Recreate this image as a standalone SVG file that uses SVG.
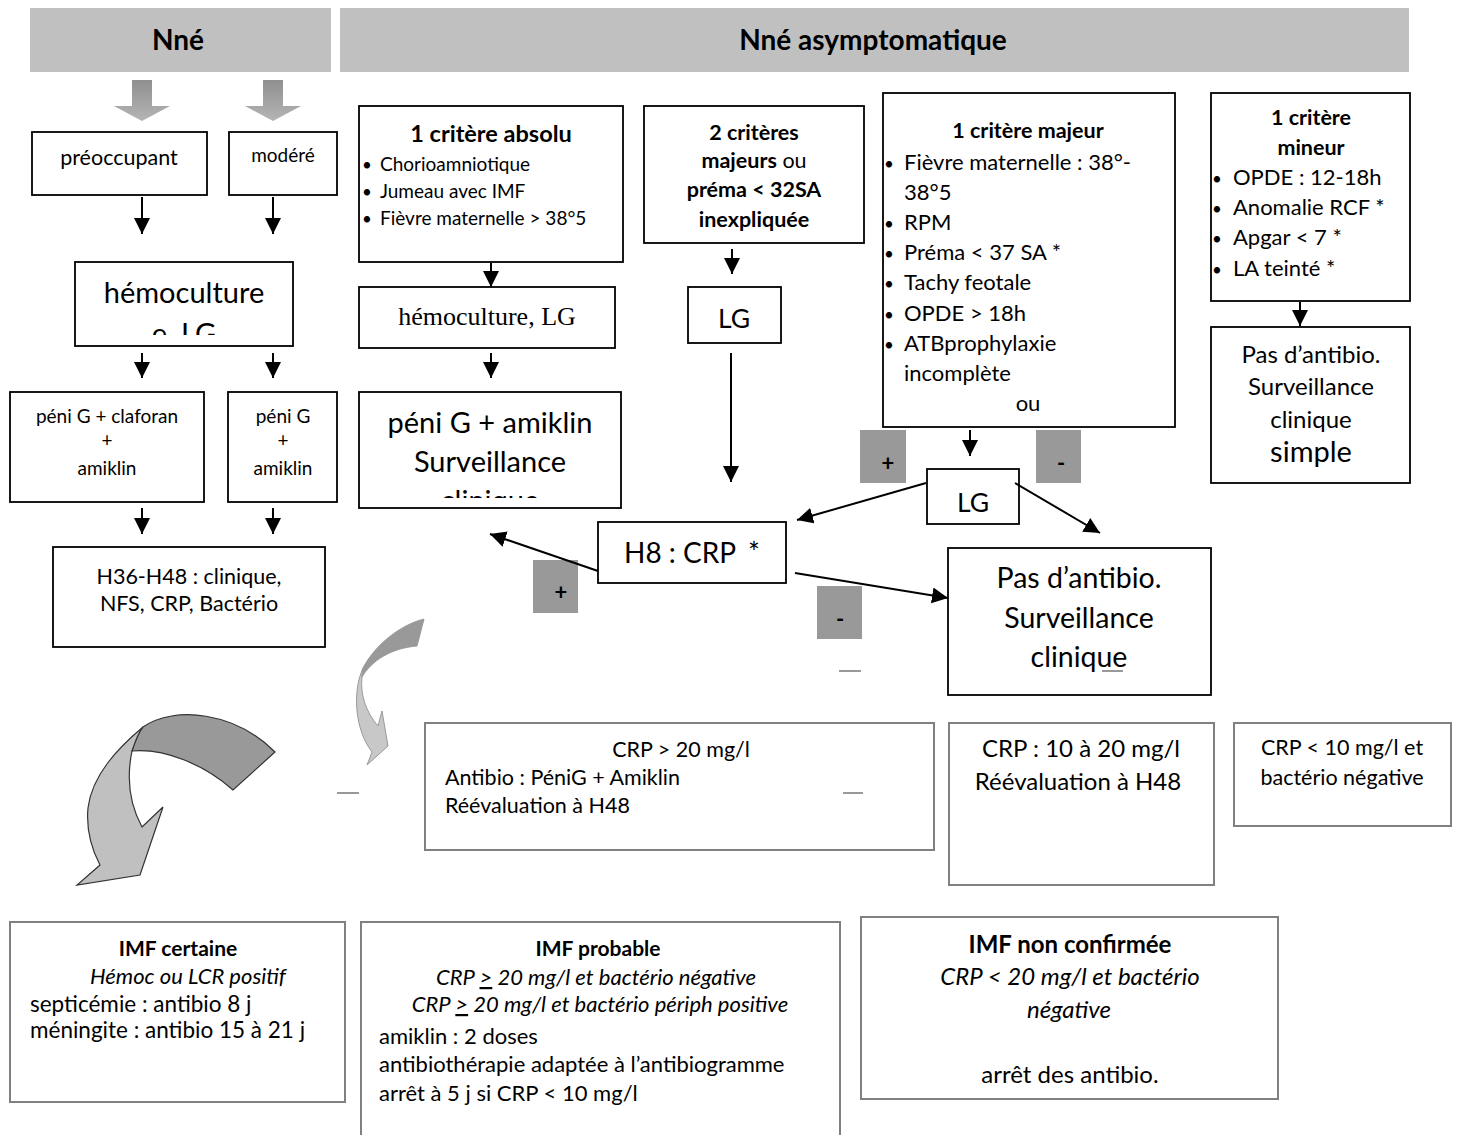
<svg xmlns="http://www.w3.org/2000/svg" width="1458" height="1135" viewBox="0 0 1458 1135">
<defs>
<style>
.t{font-family:Lato,'Liberation Sans',sans-serif;fill:#000}
.c{text-anchor:middle}
.b{font-weight:bold}
.i{font-style:italic}
.bx{fill:#fff;stroke:#000;stroke-width:1.8}
.gx{fill:#fff;stroke:#808080;stroke-width:2}
.sq{fill:#999;stroke:none}
.hd{fill:#c0c0c0}
.ln{stroke:#000;stroke-width:2;fill:none}
.dash{stroke:#999;stroke-width:2}
</style>
<marker id="ah" markerUnits="userSpaceOnUse" markerWidth="18" markerHeight="18" refX="16" refY="8" orient="auto">
<path d="M0,0 L16,8 L0,16 Z" fill="#000"/>
</marker>
<linearGradient id="ga" x1="0" y1="0" x2="0" y2="1">
<stop offset="0" stop-color="#8f8f8f"/>
<stop offset="1" stop-color="#b5b5b5"/>
</linearGradient>
<clipPath id="cp1"><rect x="75" y="262" width="218" height="73"/></clipPath>
<clipPath id="cp2"><rect x="359" y="392" width="262" height="106"/></clipPath>
</defs>

<g id="header-nne">
<rect class="hd" x="30" y="8" width="301" height="64"/>
<text class="t c b" x="178" y="50" font-size="28">Nné</text>
</g>
<g id="header-asym">
<rect class="hd" x="340" y="8" width="1069" height="64"/>
<text class="t c b" x="873" y="50" font-size="28">Nné asymptomatique</text>
</g>

<g id="gray-arrows">
<path d="M132,80 H152 V106 H170 L142,121 L114,106 H132 Z" fill="url(#ga)"/>
<path d="M263,80 H283 V106 H301 L273,121 L245,106 H263 Z" fill="url(#ga)"/>
</g>

<g id="n-preoccupant">
<rect class="bx" x="32" y="132" width="175" height="63"/>
<text class="t c" x="119" y="165" font-size="21.5">préoccupant</text>
</g>
<g id="n-modere">
<rect class="bx" x="229" y="132" width="108" height="63"/>
<text class="t c" x="283" y="162" font-size="19">modéré</text>
</g>
<g id="n-hemoc-left">
<rect class="bx" x="75" y="262" width="218" height="84"/>
<g clip-path="url(#cp1)">
<text class="t c" x="184" y="303" font-size="29">hémoculture</text>
<text class="t c" x="184" y="344" font-size="29">e, LG</text>
</g>
</g>
<g id="n-peni-claforan">
<rect class="bx" x="10" y="392" width="194" height="110"/>
<text class="t c" x="107" y="423" font-size="19">péni G + claforan</text>
<text class="t c" x="107" y="447" font-size="19">+</text>
<text class="t c" x="107" y="475" font-size="19">amiklin</text>
</g>
<g id="n-peni-g">
<rect class="bx" x="228" y="392" width="109" height="110"/>
<text class="t c" x="283" y="423" font-size="19">péni G</text>
<text class="t c" x="283" y="447" font-size="19">+</text>
<text class="t c" x="283" y="475" font-size="19">amiklin</text>
</g>
<g id="n-h36">
<rect class="bx" x="53" y="547" width="272" height="100"/>
<text class="t c" x="189" y="584" font-size="21.5">H36-H48 : clinique,</text>
<text class="t c" x="189" y="611" font-size="21.5">NFS, CRP, Bactério</text>
</g>

<g id="n-absolu">
<rect class="bx" x="359" y="106" width="264" height="156"/>
<text class="t c b" x="491" y="142" font-size="23.5">1 critère absolu</text>
<text class="t" x="362" y="171" font-size="17">•</text>
<text class="t" x="380" y="171" font-size="19">Chorioamniotique</text>
<text class="t" x="362" y="198" font-size="17">•</text>
<text class="t" x="380" y="198" font-size="19">Jumeau avec IMF</text>
<text class="t" x="362" y="225" font-size="17">•</text>
<text class="t" x="380" y="225" font-size="19">Fièvre maternelle &gt; 38°5</text>
</g>
<g id="n-hemoc-lg">
<rect class="bx" x="359" y="287" width="256" height="61"/>
<text class="c" x="487" y="325" font-size="26" font-family="'Liberation Serif',serif">hémoculture, LG</text>
</g>
<g id="n-peni-amiklin">
<rect class="bx" x="359" y="392" width="262" height="116"/>
<g clip-path="url(#cp2)">
<text class="t c" x="490" y="433" font-size="29">péni G + amiklin</text>
<text class="t c" x="490" y="472" font-size="29">Surveillance</text>
<text class="t c" x="490" y="511" font-size="29">clinique</text>
</g>
</g>

<g id="n-2criteres">
<rect class="bx" x="644" y="106" width="220" height="137"/>
<text class="t c b" x="754" y="140" font-size="21.5">2 critères</text>
<text class="t c" x="754" y="168" font-size="21.5"><tspan class="b">majeurs</tspan> ou</text>
<text class="t c b" x="754" y="197" font-size="21.5">préma &lt; 32SA</text>
<text class="t c b" x="754" y="227" font-size="21.5">inexpliquée</text>
</g>
<g id="n-lg1">
<rect class="bx" x="688" y="287" width="93" height="56"/>
<text class="t c" x="734" y="328" font-size="26.5">LG</text>
</g>

<g id="n-majeur">
<rect class="bx" x="883" y="93" width="292" height="334"/>
<text class="t c b" x="1028" y="138" font-size="21.5">1 critère majeur</text>
<g font-size="22">
<text class="t" x="884" y="170" font-size="17">•</text>
<text class="t" x="904" y="170">Fièvre maternelle : 38°-</text>
<text class="t" x="904" y="200">38°5</text>
<text class="t" x="884" y="230" font-size="17">•</text>
<text class="t" x="904" y="230">RPM</text>
<text class="t" x="884" y="260" font-size="17">•</text>
<text class="t" x="904" y="260">Préma &lt; 37 SA *</text>
<text class="t" x="884" y="290" font-size="17">•</text>
<text class="t" x="904" y="290">Tachy feotale</text>
<text class="t" x="884" y="321" font-size="17">•</text>
<text class="t" x="904" y="321">OPDE &gt; 18h</text>
<text class="t" x="884" y="351" font-size="17">•</text>
<text class="t" x="904" y="351">ATBprophylaxie</text>
<text class="t" x="904" y="381">incomplète</text>
<text class="t c" x="1028" y="411">ou</text>
</g>
</g>
<g id="n-plus1">
<rect class="sq" x="860" y="430" width="46" height="53"/>
<text class="t c b" x="888" y="471" font-size="22">+</text>
</g>
<g id="n-minus1">
<rect class="sq" x="1036" y="430" width="45" height="53"/>
<text class="t c b" x="1061" y="471" font-size="22">-</text>
</g>
<g id="n-lg2">
<rect class="bx" x="927" y="469" width="92" height="55"/>
<text class="t c" x="973" y="512" font-size="26.5">LG</text>
</g>

<g id="n-mineur">
<rect class="bx" x="1211" y="93" width="199" height="208"/>
<text class="t c b" x="1311" y="125" font-size="21.5">1 critère</text>
<text class="t c b" x="1311" y="155" font-size="21.5">mineur</text>
<g font-size="22">
<text class="t" x="1212" y="185" font-size="17">•</text>
<text class="t" x="1233" y="185">OPDE : 12-18h</text>
<text class="t" x="1212" y="215" font-size="17">•</text>
<text class="t" x="1233" y="215">Anomalie RCF *</text>
<text class="t" x="1212" y="245" font-size="17">•</text>
<text class="t" x="1233" y="245">Apgar &lt; 7 *</text>
<text class="t" x="1212" y="276" font-size="17">•</text>
<text class="t" x="1233" y="276">LA teinté *</text>
</g>
</g>
<g id="n-pas-simple">
<rect class="bx" x="1211" y="327" width="199" height="156"/>
<text class="t c" x="1311" y="363" font-size="24">Pas d’antibio.</text>
<text class="t c" x="1311" y="395" font-size="24">Surveillance</text>
<text class="t c" x="1311" y="428" font-size="24">clinique</text>
<text class="t c" x="1311" y="462" font-size="29">simple</text>
</g>

<g id="n-h8">
<rect class="bx" x="598" y="522" width="188" height="61"/>
<text class="t" x="624" y="563" font-size="28">H8 : CRP<tspan x="748">*</tspan></text>
</g>
<g id="n-plus2">
<rect class="sq" x="533" y="560" width="45" height="53"/>
<text class="t c b" x="561" y="600" font-size="22">+</text>
</g>
<g id="n-minus2">
<rect class="sq" x="817" y="586" width="45" height="53"/>
<text class="t c b" x="840" y="627" font-size="22">-</text>
</g>
<g id="n-pas-big">
<rect class="bx" x="948" y="548" width="263" height="147"/>
<text class="t c" x="1079" y="588" font-size="28.5">Pas d’antibio.</text>
<text class="t c" x="1079" y="628" font-size="28.5">Surveillance</text>
<text class="t c" x="1079" y="667" font-size="28.5">clinique</text>
</g>

<g id="n-crp20">
<rect class="gx" x="425" y="723" width="509" height="127"/>
<text class="t c" x="681" y="757" font-size="21.5">CRP &gt; 20 mg/l</text>
<text class="t" x="445" y="785" font-size="21.5">Antibio : PéniG + Amiklin</text>
<text class="t" x="445" y="813" font-size="21.5">Réévaluation à H48</text>
</g>
<g id="n-crp10-20">
<rect class="gx" x="949" y="723" width="265" height="162"/>
<text class="t c" x="1081" y="757" font-size="24">CRP : 10 à 20 mg/l</text>
<text class="t c" x="1078" y="790" font-size="24">Réévaluation à H48</text>
</g>
<g id="n-crp10">
<rect class="gx" x="1234" y="723" width="217" height="103"/>
<text class="t c" x="1342" y="755" font-size="21.5">CRP &lt; 10 mg/l et</text>
<text class="t c" x="1342" y="785" font-size="21.5">bactério négative</text>
</g>

<g id="n-imf-certaine">
<rect class="gx" x="10" y="922" width="335" height="180"/>
<text class="t c b" x="178" y="956" font-size="21">IMF certaine</text>
<text class="t c i" x="188" y="984" font-size="22">Hémoc ou LCR positif</text>
<text class="t" x="30" y="1012" font-size="22.5">septicémie : antibio 8 j</text>
<text class="t" x="30" y="1038" font-size="22.5">méningite : antibio 15 à 21 j</text>
</g>
<g id="n-imf-probable">
<rect class="gx" x="361" y="922" width="479" height="220"/>
<text class="t c b" x="598" y="956" font-size="21">IMF probable</text>
<text class="t c i" x="596" y="985" font-size="22">CRP <tspan text-decoration="underline">&gt;</tspan> 20 mg/l et bactério négative</text>
<text class="t c i" x="600" y="1012" font-size="22">CRP <tspan text-decoration="underline">&gt;</tspan> 20 mg/l et bactério périph positive</text>
<text class="t" x="379" y="1044" font-size="22">amiklin : 2 doses</text>
<text class="t" x="379" y="1072" font-size="22">antibiothérapie adaptée à l’antibiogramme</text>
<text class="t" x="379" y="1101" font-size="22">arrêt à 5 j si CRP &lt; 10 mg/l</text>
</g>
<g id="n-imf-non">
<rect class="gx" x="861" y="917" width="417" height="182"/>
<text class="t c b" x="1070" y="953" font-size="24">IMF non confirmée</text>
<text class="t c i" x="1070" y="985" font-size="24">CRP &lt; 20 mg/l et bactério</text>
<text class="t c i" x="1069" y="1018" font-size="24">négative</text>
<text class="t c" x="1070" y="1083" font-size="24">arrêt des antibio.</text>
</g>

<g id="curved-arrows">
<path d="M143,727 C118,748 92,775 88,808 C86,830 92,850 100,865 L77,885 L140,875 L163,807 L142,827 C130,805 126,780 132,751 Z" fill="#c0c0c0" stroke="#333" stroke-width="1.2"/>
<path d="M143,727 C175,705 235,712 275,752 L233,790 C205,765 165,748 132,751 C135,742 138,733 143,727 Z" fill="#999" stroke="#333" stroke-width="1.2"/>
<path d="M363,668 C352,692 355,730 372,752 L367,765 L388,746 L382,711 L378,726 C366,712 360,695 362,677 Z" fill="#c8c8c8" stroke="#999" stroke-width="1"/>
<path d="M424,619 C400,625 375,645 363,668 L362,677 C372,660 392,648 417,646 Z" fill="#999" stroke="#999" stroke-width="1"/>
</g>

<g id="marks">
<line class="dash" x1="337" y1="793" x2="359" y2="793"/>
<line class="dash" x1="843" y1="793" x2="863" y2="793"/>
<line class="dash" x1="839" y1="671" x2="861" y2="671"/>
<line class="dash" x1="1102" y1="671" x2="1123" y2="671"/>
</g>

<g id="connectors">
<line class="ln" x1="142" y1="197" x2="142" y2="234" marker-end="url(#ah)"/>
<line class="ln" x1="273" y1="197" x2="273" y2="234" marker-end="url(#ah)"/>
<line class="ln" x1="142" y1="353" x2="142" y2="378" marker-end="url(#ah)"/>
<line class="ln" x1="273" y1="353" x2="273" y2="378" marker-end="url(#ah)"/>
<line class="ln" x1="142" y1="508" x2="142" y2="534" marker-end="url(#ah)"/>
<line class="ln" x1="273" y1="508" x2="273" y2="534" marker-end="url(#ah)"/>
<line class="ln" x1="491" y1="263" x2="491" y2="287" marker-end="url(#ah)"/>
<line class="ln" x1="491" y1="353" x2="491" y2="378" marker-end="url(#ah)"/>
<line class="ln" x1="732" y1="249" x2="732" y2="274" marker-end="url(#ah)"/>
<line class="ln" x1="731" y1="353" x2="731" y2="482" marker-end="url(#ah)"/>
<line class="ln" x1="970" y1="430" x2="970" y2="456" marker-end="url(#ah)"/>
<line class="ln" x1="1300" y1="302" x2="1300" y2="326" marker-end="url(#ah)"/>
<line class="ln" x1="926" y1="483" x2="797" y2="520" marker-end="url(#ah)"/>
<line class="ln" x1="1015" y1="483" x2="1100" y2="533" marker-end="url(#ah)"/>
<line class="ln" x1="598" y1="571" x2="490" y2="534" marker-end="url(#ah)"/>
<line class="ln" x1="795" y1="573" x2="948" y2="598" marker-end="url(#ah)"/>
</g>
</svg>
